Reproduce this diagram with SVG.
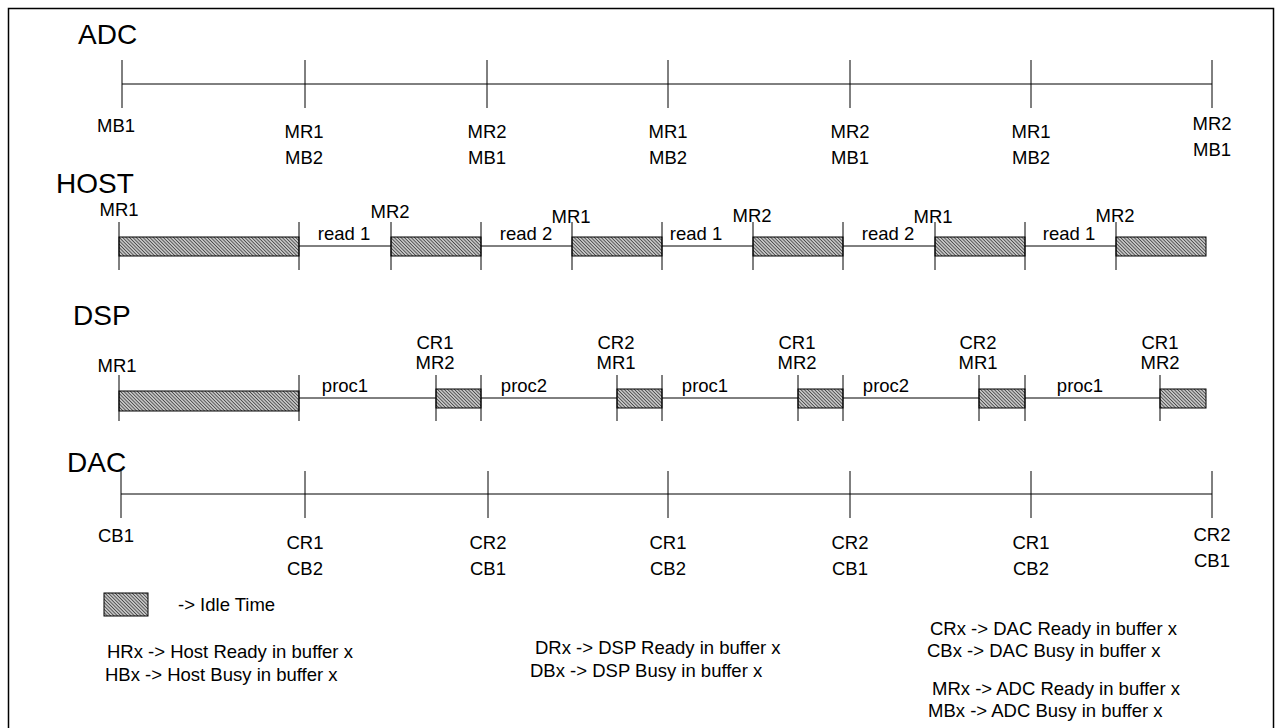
<svg xmlns="http://www.w3.org/2000/svg" width="1278" height="728" viewBox="0 0 1278 728">
<defs>
<pattern id="hatch" width="2.4" height="2.4" patternUnits="userSpaceOnUse" patternTransform="rotate(-45)">
<rect width="2.4" height="2.4" fill="#c4c4c4"/>
<line x1="0" y1="0" x2="0" y2="2.4" stroke="#111" stroke-width="1.1"/>
</pattern>
</defs>
<style>
text{font-family:"Liberation Sans",Arial,sans-serif;fill:#000}
.title{font-size:28px}
.lbl{font-size:18.5px;text-anchor:middle}
.leg{font-size:18.5px}
.ln{stroke:#000;stroke-width:1;fill:none}
.bar{fill:url(#hatch);stroke:#000;stroke-width:1}
</style>
<rect x="8.5" y="8.5" width="1265" height="730" fill="#fff" stroke="#000" stroke-width="1.5"/>

<g id="adc">
<text class="title" x="78" y="44">ADC</text>
<path class="ln" d="M122 84H1212M122 60V108M305 60V108M487 60V108M668 60V108M850 60V108M1031 60V108M1212 60V108"/>
<text class="lbl" x="116" y="132">MB1</text>
<text class="lbl" x="304" y="138">MR1</text><text class="lbl" x="304" y="164">MB2</text>
<text class="lbl" x="487" y="138">MR2</text><text class="lbl" x="487" y="164">MB1</text>
<text class="lbl" x="668" y="138">MR1</text><text class="lbl" x="668" y="164">MB2</text>
<text class="lbl" x="850" y="138">MR2</text><text class="lbl" x="850" y="164">MB1</text>
<text class="lbl" x="1031" y="138">MR1</text><text class="lbl" x="1031" y="164">MB2</text>
<text class="lbl" x="1212" y="130">MR2</text><text class="lbl" x="1212" y="156">MB1</text>
</g>

<g id="host">
<text class="title" x="56" y="193">HOST</text>
<path class="ln" d="M119 246H1206"/>
<rect class="bar" x="119" y="237" width="180" height="19"/>
<rect class="bar" x="391" y="237" width="90" height="19"/>
<rect class="bar" x="572" y="237" width="90" height="19"/>
<rect class="bar" x="753" y="237" width="90" height="19"/>
<rect class="bar" x="935" y="237" width="90" height="19"/>
<rect class="bar" x="1116" y="237" width="90" height="19"/>
<path class="ln" d="M119 222V270M299 222V270M391 222V270M481 222V270M572 222V270M662 222V270M753 222V270M843 222V270M935 222V270M1025 222V270M1116 222V270"/>
<text class="lbl" x="119" y="216">MR1</text>
<text class="lbl" x="390" y="218">MR2</text>
<text class="lbl" x="571" y="223">MR1</text>
<text class="lbl" x="752" y="222">MR2</text>
<text class="lbl" x="933" y="223">MR1</text>
<text class="lbl" x="1115" y="222">MR2</text>
<text class="lbl" x="344" y="240">read 1</text>
<text class="lbl" x="526" y="240">read 2</text>
<text class="lbl" x="696" y="240">read 1</text>
<text class="lbl" x="888" y="240">read 2</text>
<text class="lbl" x="1069" y="240">read 1</text>
</g>

<g id="dsp">
<text class="title" x="73" y="325">DSP</text>
<path class="ln" d="M119 398H1206"/>
<rect class="bar" x="119" y="391" width="180" height="20"/>
<rect class="bar" x="436" y="389" width="45" height="19"/>
<rect class="bar" x="617" y="389" width="45" height="19"/>
<rect class="bar" x="798" y="389" width="45" height="19"/>
<rect class="bar" x="979" y="389" width="46" height="19"/>
<rect class="bar" x="1160" y="389" width="46" height="19"/>
<path class="ln" d="M119 375V421M299 375V421M436 375V421M481 375V421M617 375V421M662 375V421M798 375V421M843 375V421M979 375V421M1025 375V421M1160 375V421"/>
<text class="lbl" x="117" y="372">MR1</text>
<text class="lbl" x="435" y="349">CR1</text><text class="lbl" x="435" y="369">MR2</text>
<text class="lbl" x="616" y="349">CR2</text><text class="lbl" x="616" y="369">MR1</text>
<text class="lbl" x="797" y="349">CR1</text><text class="lbl" x="797" y="369">MR2</text>
<text class="lbl" x="978" y="349">CR2</text><text class="lbl" x="978" y="369">MR1</text>
<text class="lbl" x="1160" y="349">CR1</text><text class="lbl" x="1160" y="369">MR2</text>
<text class="lbl" x="345" y="392">proc1</text>
<text class="lbl" x="524" y="392">proc2</text>
<text class="lbl" x="705" y="392">proc1</text>
<text class="lbl" x="886" y="392">proc2</text>
<text class="lbl" x="1080" y="392">proc1</text>
</g>

<g id="dac">
<text class="title" x="67" y="472">DAC</text>
<path class="ln" d="M121 494H1212M121 471V518M488 471V518M668 471V518M850 471V518M1031 471V518M1212 471V518"/>
<path class="ln" d="M305 471V518" stroke-width="2"/>
<text class="lbl" x="116" y="542">CB1</text>
<text class="lbl" x="305" y="549">CR1</text><text class="lbl" x="305" y="575">CB2</text>
<text class="lbl" x="488" y="549">CR2</text><text class="lbl" x="488" y="575">CB1</text>
<text class="lbl" x="668" y="549">CR1</text><text class="lbl" x="668" y="575">CB2</text>
<text class="lbl" x="850" y="549">CR2</text><text class="lbl" x="850" y="575">CB1</text>
<text class="lbl" x="1031" y="549">CR1</text><text class="lbl" x="1031" y="575">CB2</text>
<text class="lbl" x="1212" y="541">CR2</text><text class="lbl" x="1212" y="567">CB1</text>
</g>

<g id="legend">
<rect class="bar" x="104" y="593" width="44" height="23"/>
<text class="leg" x="178" y="611">-&gt; Idle Time</text>
<text class="leg" x="107" y="658">HRx -&gt; Host Ready in buffer x</text>
<text class="leg" x="105" y="681">HBx -&gt; Host Busy in buffer x</text>
<text class="leg" x="535" y="654">DRx -&gt; DSP Ready in buffer x</text>
<text class="leg" x="530" y="677">DBx -&gt; DSP Busy in buffer x</text>
<text class="leg" x="930" y="635">CRx -&gt; DAC Ready in buffer x</text>
<text class="leg" x="927" y="657">CBx -&gt; DAC Busy in buffer x</text>
<text class="leg" x="932" y="695">MRx -&gt; ADC Ready in buffer x</text>
<text class="leg" x="928" y="717">MBx -&gt; ADC Busy in buffer x</text>
</g>
</svg>
